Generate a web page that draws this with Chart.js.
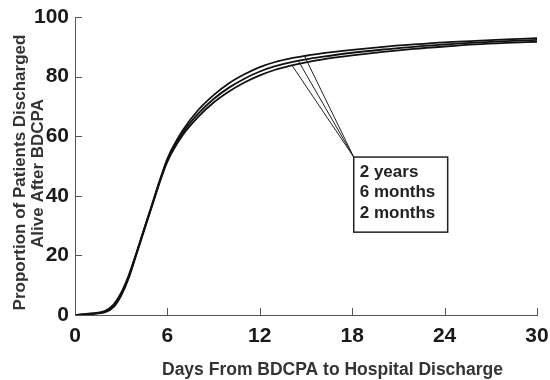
<!DOCTYPE html>
<html>
<head>
<meta charset="utf-8">
<script src="https://cdn.jsdelivr.net/npm/chart.js@4"></script>
<style>
  html, body { margin: 0; padding: 0; background: #fff; }
  #wrap { width: 550px; height: 380px; }
</style>
</head>
<body>
<div id="wrap"><canvas id="survCanvas" width="550" height="380"></canvas></div>
<script>
const days = [0, 1, 2, 2.5, 3, 3.5, 4, 4.5, 5, 5.5, 6, 7, 8, 9, 10, 11, 12, 13, 14, 15, 16, 18, 20, 22, 24, 26, 28, 30];
const twoYears = [0, 0.5, 1.5, 3.5, 7.5, 13.5, 21, 29, 37, 45, 52.5, 62, 68.8, 73.8, 77.8, 80.8, 83.2, 84.9, 86.1, 87, 87.8, 89, 90, 90.8, 91.5, 92, 92.5, 92.9];
const sixMonths = [0, 0.4, 1.2, 3, 7, 13, 21, 29, 37, 45, 52, 61.2, 67.6, 72.5, 76.3, 79.3, 81.7, 83.5, 84.8, 85.8, 86.6, 88, 89.1, 90, 90.8, 91.4, 91.9, 92.3];
const twoMonths = [0, 0.3, 1, 2.6, 6.5, 12.5, 20.5, 28.5, 36.5, 44.5, 51.5, 60.4, 66.5, 71.3, 75, 78, 80.4, 82.3, 83.7, 84.8, 85.7, 87.1, 88.3, 89.3, 90.1, 90.8, 91.3, 91.7];
const seriesNames = ["2 years", "6 months", "2 months"];

const xTicks = [0, 6, 12, 18, 24, 30];
const yTicks = [0, 20, 40, 60, 80, 100];

const xTitle = "Days From BDCPA to Hospital Discharge";
const yTitle = ["Proportion of Patients Discharged", "Alive After BDCPA"];

// callout: where the pointer lines touch the curves, and the label box (data units)
const calloutTargets = [[14.9, 86.9], [14.5, 85.3], [14.1, 83.7]];
const calloutBox = { x0: 18.1, y0: 53, x1: 24.2, y1: 27.8 };

const FONT = "'Liberation Sans', Arial, Helvetica, sans-serif";

const toPoints = (vals) => days.map((d, i) => ({ x: d, y: vals[i] }));

const lineSet = (label, vals) => ({
    label: label,
    data: toPoints(vals),
    borderColor: "#111",
    borderWidth: 1.8,
    pointRadius: 0,
    fill: false,
    cubicInterpolationMode: "monotone"
});

// inward tick marks, axis titles (the x title sits off-centre in the original) and the callout box
const extras = {
    id: "extras",
    afterDraw(chart) {
        const ctx = chart.ctx;
        const xs = chart.scales.x, ys = chart.scales.y;
        const area = chart.chartArea;
        ctx.save();
        ctx.strokeStyle = "#555";
        ctx.lineWidth = 1;
        xTicks.forEach(t => {
            const px = Math.round(xs.getPixelForValue(t)) + 0.5;
            ctx.beginPath();
            ctx.moveTo(px, area.bottom);
            ctx.lineTo(px, area.bottom - 7);
            ctx.stroke();
        });
        yTicks.forEach(t => {
            const py = Math.round(ys.getPixelForValue(t)) + 0.5;
            ctx.beginPath();
            ctx.moveTo(area.left, py);
            ctx.lineTo(area.left + 7, py);
            ctx.stroke();
        });

        // axis titles
        ctx.fillStyle = "#333";
        ctx.font = "bold 17.5px " + FONT;
        ctx.textAlign = "center";
        ctx.textBaseline = "alphabetic";
        ctx.fillText(xTitle, 332.5, 375);
        ctx.font = "bold 17px " + FONT;
        [[25, 172.5], [43.3, 173.5]].forEach(([bx, cy], i) => {
            ctx.save();
            ctx.translate(bx, cy);
            ctx.rotate(-Math.PI / 2);
            ctx.fillText(yTitle[i], 0, 0);
            ctx.restore();
        });

        const bx0 = xs.getPixelForValue(calloutBox.x0), by0 = ys.getPixelForValue(calloutBox.y0);
        const bx1 = xs.getPixelForValue(calloutBox.x1), by1 = ys.getPixelForValue(calloutBox.y1);

        ctx.strokeStyle = "#222";
        ctx.lineWidth = 1;
        calloutTargets.forEach(([tx, ty]) => {
            ctx.beginPath();
            ctx.moveTo(bx0, by0);
            ctx.lineTo(xs.getPixelForValue(tx), ys.getPixelForValue(ty));
            ctx.stroke();
        });

        ctx.fillStyle = "#fff";
        ctx.fillRect(bx0, by0, bx1 - bx0, by1 - by0);
        ctx.lineWidth = 1.5;
        ctx.strokeRect(bx0, by0, bx1 - bx0, by1 - by0);

        ctx.fillStyle = "#222";
        ctx.font = "bold 17px " + FONT;
        ctx.textBaseline = "middle";
        ctx.textAlign = "left";
        seriesNames.forEach((name, i) => {
            ctx.fillText(name, bx0 + 6, by0 + 15 + i * 20.5);
        });
        ctx.restore();
    }
};

new Chart(document.getElementById("survCanvas"), {
    type: "line",
    data: {
        datasets: [
            lineSet(seriesNames[0], twoYears),
            lineSet(seriesNames[1], sixMonths),
            lineSet(seriesNames[2], twoMonths)
        ]
    },
    options: {
        responsive: false,
        animation: false,
        layout: { padding: { top: 17, right: 13, left: 0, bottom: 0 } },
        plugins: {
            legend: { display: false },
            tooltip: { enabled: false }
        },
        scales: {
            x: {
                type: "linear",
                min: 0,
                max: 30,
                grid: { display: false, drawTicks: false },
                border: { display: true, color: "#555", width: 1 },
                afterBuildTicks: (axis) => { axis.ticks = xTicks.map(v => ({ value: v })); },
                afterFit: (axis) => {
                    axis.height = 65;
                    axis.paddingLeft = 0;
                    axis.paddingRight = 0;
                },
                ticks: {
                    padding: 9,
                    color: "#1a1a1a",
                    maxRotation: 0,
                    font: { family: FONT, size: 21, weight: "bold" }
                }
            },
            y: {
                min: 0,
                max: 100,
                grid: { display: false, drawTicks: false },
                border: { display: true, color: "#555", width: 1 },
                afterBuildTicks: (axis) => { axis.ticks = yTicks.map(v => ({ value: v })); },
                afterFit: (axis) => {
                    axis.width = 75;
                    axis.paddingTop = 0;
                    axis.paddingBottom = 0;
                },
                ticks: {
                    padding: 6,
                    color: "#1a1a1a",
                    font: { family: FONT, size: 21, weight: "bold" }
                }
            }
        }
    },
    plugins: [extras]
});
</script>
</body>
</html>
